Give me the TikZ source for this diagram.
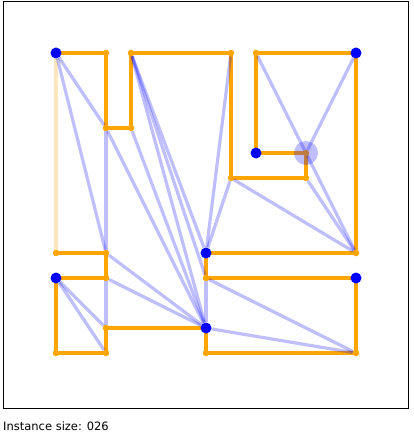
\documentclass[tikz,border=0pt]{standalone}
\usepackage{fontspec}
\setmainfont{DejaVu Sans}
\usepackage{tikz}
\usetikzlibrary{backgrounds}
\definecolor{polyorange}{HTML}{FFA500}

\begin{document}
\begin{tikzpicture}[x=25pt, y=-25pt,
            corner/.style={circle, fill=polyorange, inner sep=0pt, minimum size=6.5pt},
            guard/.style={circle, fill=blue, inner sep=0pt, minimum size=11pt},
            edge/.style={draw=polyorange, line width=3.2pt, line join=round},
            sight/.style={draw=blue, opacity=0.25, line width=3.2pt}]
            \useasboundingbox (-2.24,-2.12) rectangle (14.28,15.32);
            \draw[line width=1pt] (-2.1,-2.06) rectangle (14.1,14.2);

            \node[guard] (p0) at (0,0) {};
            \node[corner] (p1) at (2,0) {};
            \node[corner] (p2) at (2,3) {};
            \node[corner] (p3) at (3,3) {};
            \node[corner] (p4) at (3,0) {};
            \node[corner] (p5) at (7,0) {};
            \node[corner] (p6) at (7,5) {};
            \node[corner] (p7) at (10,5) {};
            \node[corner] (p8) at (10,4) {};
            \node[guard] (p9) at (8,4) {};
            \node[corner] (p10) at (8,0) {};
            \node[guard] (p11) at (12,0) {};
            \node[corner] (p12) at (12,8) {};
            \node[guard] (p13) at (6,8) {};
            \node[corner] (p14) at (6,9) {};
            \node[guard] (p15) at (12,9) {};
            \node[corner] (p16) at (12,12) {};
            \node[corner] (p17) at (6,12) {};
            \node[guard] (p18) at (6,11) {};
            \node[corner] (p19) at (2,11) {};
            \node[corner] (p20) at (2,12) {};
            \node[corner] (p21) at (0,12) {};
            \node[guard] (p22) at (0,9) {};
            \node[corner] (p23) at (2,9) {};
            \node[corner] (p24) at (2,8) {};
            \node[corner] (p25) at (0,8) {};
            \node[circle, fill=blue, opacity=0.25, minimum size=24pt, inner sep=0pt] (mark) at (p8) {};

            \begin{scope}[on background layer]
            \draw[edge] (p0.center) -- (p1.center) -- (p2.center) -- (p3.center) -- (p4.center)
                -- (p5.center) -- (p6.center) -- (p7.center) -- (p8.center) -- (p9.center)
                -- (p10.center) -- (p11.center) -- (p12.center) -- (p13.center) -- (p14.center)
                -- (p15.center) -- (p16.center) -- (p17.center) -- (p18.center) -- (p19.center)
                -- (p20.center) -- (p21.center) -- (p22.center) -- (p23.center) -- (p24.center)
                -- (p25.center);
            \draw[edge, draw opacity=0.25] (p25.center) -- (p0.center);

            \draw[sight] (p0) -- (p2);
            \draw[sight] (p0) -- (p24);
            \draw[sight] (p2) -- (p24);
            \draw[sight] (p2) -- (p18);
            \draw[sight] (p3) -- (p18);
            \draw[sight] (p4) -- (p18);
            \draw[sight] (p4) -- (p14);
            \draw[sight] (p4) -- (p13);
            \draw[sight] (p5) -- (p13);
            \draw[sight] (p6) -- (p13);
            \draw[sight] (p6) -- (p12);
            \draw[sight] (p7) -- (p12);
            \draw[sight] (p10) -- (p12);
            \draw[sight] (p11) -- (p8);
            \draw[sight] (p24) -- (p18);
            \draw[sight] (p23) -- (p18);
            \draw[sight] (p23) -- (p19);
            \draw[sight] (p22) -- (p19);
            \draw[sight] (p22) -- (p20);
            \draw[sight] (p14) -- (p18);
            \draw[sight] (p14) -- (p16);
            \draw[sight] (p18) -- (p16);
            \end{scope}

            \node[anchor=base west, inner sep=0pt, font=\fontsize{11.5}{13}\selectfont] (size) at (-2.12,15.08) {Instance size: 026};
        \end{tikzpicture}
\end{document}
